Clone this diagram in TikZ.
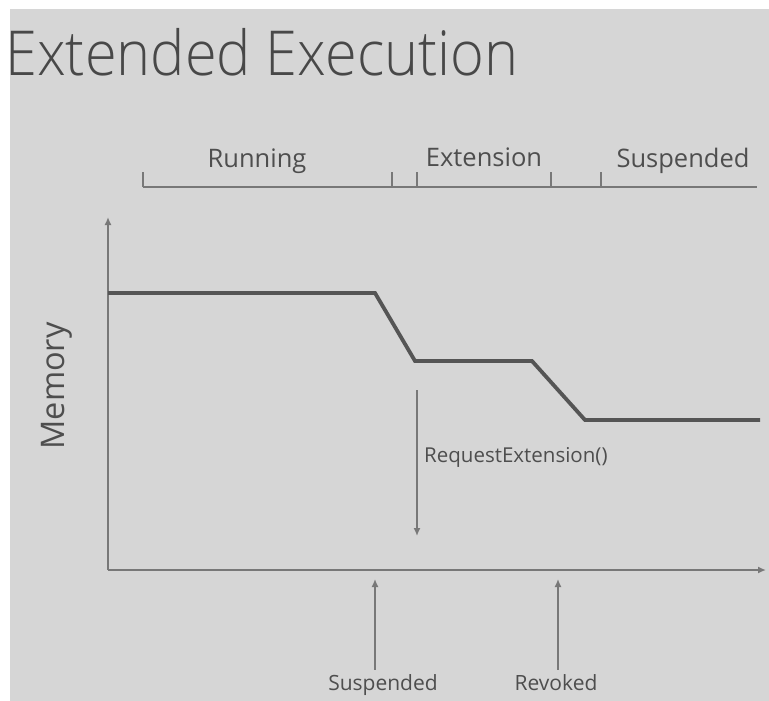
\documentclass[tikz,border=0pt]{standalone}
\usepackage{fontspec}
\setmainfont{Open Sans}
\newfontfamily\lightfont{Open Sans Light}
\usetikzlibrary{arrows.meta}
\definecolor{bg}{RGB}{214,214,214}
\definecolor{ink}{RGB}{72,72,72}
\definecolor{labelgray}{RGB}{78,78,78}
\definecolor{axisgray}{RGB}{120,120,120}
\definecolor{curvegray}{RGB}{85,85,85}
\tikzset{
  phase/.style={anchor=base, inner sep=0pt, text=labelgray, font=\fontsize{25.5}{25.5}\selectfont},
  evlabel/.style={inner sep=0pt, text=labelgray, font=\fontsize{21}{21}\selectfont},
  bracketline/.style={draw=axisgray, line width=1.8pt},
  axisline/.style={draw=axisgray, line width=2pt, -{Latex[length=8pt,width=7pt]}},
  eventarrow/.style={draw=axisgray, line width=1.5pt, -{Latex[length=8pt,width=7pt]}},
  memcurve/.style={draw=curvegray, line width=3.8pt, line join=miter},
}
\begin{document}
\begin{tikzpicture}[x=1pt,y=-1pt]
  % canvas
  \fill[white] (0,0) rectangle (769,701);
  \fill[bg] (10,9) rectangle (769,701);
  \useasboundingbox (0,0) rectangle (769,701);

  % title
  \node[anchor=base west, inner sep=0pt, text=ink, xscale=0.93,
        font=\lightfont\fontsize{62}{62}\selectfont] (title) at (5,76) {Extended Execution};

  % phase bracket
  \coordinate (b0) at (143,187);
  \coordinate (b1) at (392,187);
  \coordinate (b2) at (417,187);
  \coordinate (b3) at (551,187);
  \coordinate (b4) at (601,187);
  \coordinate (b5) at (757,187);
  \draw[bracketline] (b0) -- (b5);
  \foreach \t in {b0,b1,b2,b3,b4}
    \draw[bracketline] (\t) -- ++(0,-15);

  \node[phase] (running) at (257,167) {Running};
  \node[phase] (extension) at (484,166) {Extension};
  \node[phase] (suspended) at (683,167) {Suspended};

  % axes
  \coordinate (O) at (108,570);
  \coordinate (ytop) at (108,217);
  \coordinate (xend) at (766,570);
  \draw[axisline] (O) -- (ytop);
  \draw[axisline] (O) -- (xend);
  \node[rotate=90, inner sep=0pt, text=labelgray, font=\fontsize{32.5}{32.5}\selectfont] (mem) at (57,386) {Memory};

  % memory curve
  \coordinate (m1) at (108,293);
  \coordinate (m2) at (375,293);
  \coordinate (m3) at (415,361);
  \coordinate (m4) at (532,361);
  \coordinate (m5) at (585,420);
  \coordinate (m6) at (760,420);
  \draw[memcurve] (m1) -- (m2) -- (m3) -- (m4) -- (m5) -- (m6);

  % extension request
  \coordinate (reqtop) at (417,390);
  \coordinate (reqend) at (417,536);
  \draw[eventarrow] (reqtop) -- (reqend);
  \node[evlabel, anchor=base west, font=\fontsize{20.5}{20.5}\selectfont] (req) at (424,462) {RequestExtension()};

  % suspend / revoke events
  \node[evlabel, anchor=base] (evsusp) at (383,690) {Suspended};
  \node[evlabel, anchor=base] (evrev) at (556,690) {Revoked};
  \coordinate (susptip) at (375,579);
  \coordinate (revtip) at (558,579);
  \draw[eventarrow] ([yshift=4pt]evsusp.north -| susptip) -- (susptip);
  \draw[eventarrow] ([yshift=4pt]evrev.north -| revtip) -- (revtip);
\end{tikzpicture}
\end{document}
